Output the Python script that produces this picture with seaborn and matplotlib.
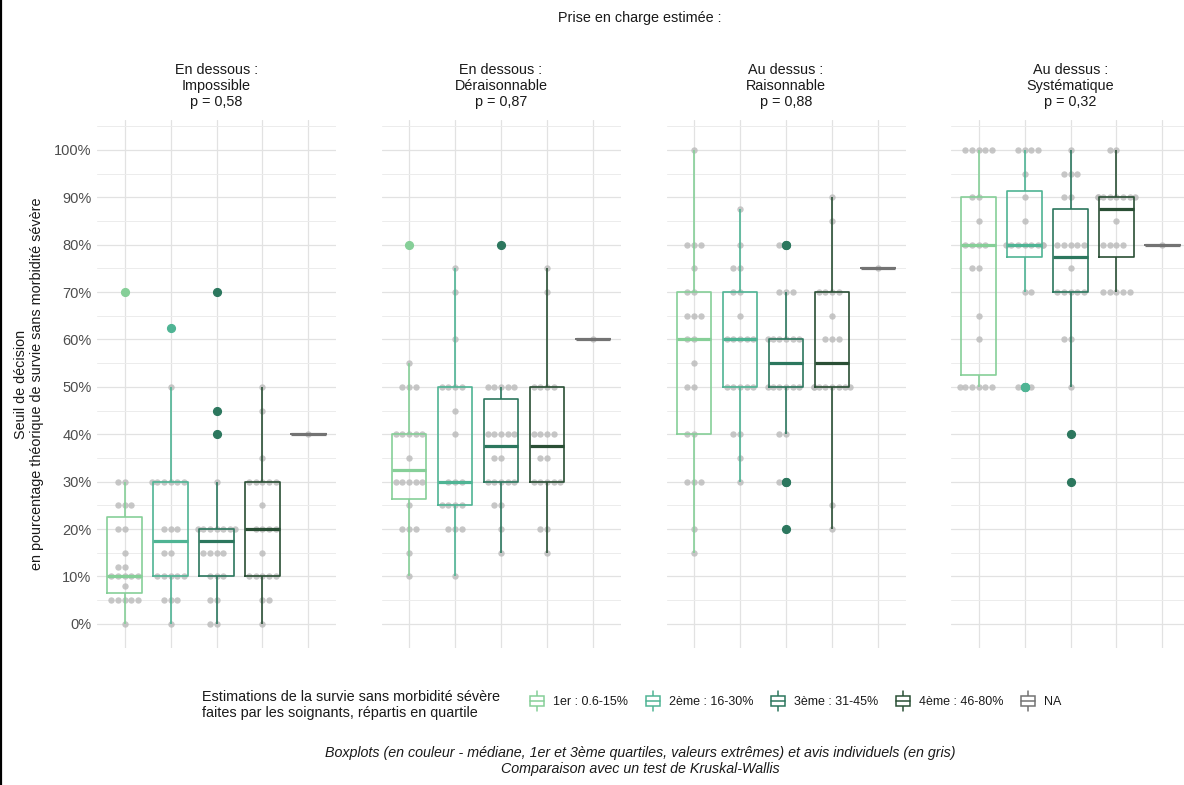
import warnings
warnings.filterwarnings("ignore")
import numpy as np
import pandas as pd
import matplotlib
matplotlib.use("Agg")
import matplotlib.pyplot as plt
import seaborn as sns
from matplotlib.ticker import MultipleLocator, FuncFormatter
from matplotlib.legend_handler import HandlerBase
from matplotlib.patches import Rectangle
from matplotlib.lines import Line2D

# ---------------- data ----------------
groups = ["1er : 0.6-15%", "2ème : 16-30%", "3ème : 31-45%", "4ème : 46-80%", "NA"]
panel_titles = ["En dessous :\nImpossible\np = 0,58",
                "En dessous :\nDéraisonnable\np = 0,87",
                "Au dessus :\nRaisonnable\np = 0,88",
                "Au dessus :\nSystématique\np = 0,32"]

impossible_g1 = [0, 5, 5, 5, 5, 5, 8, 10, 10, 10, 10, 10, 12, 12, 15, 20, 20, 25, 25, 25, 30, 30, 70]
impossible_g2 = [0, 5, 5, 5, 10, 10, 10, 10, 10, 15, 15, 20, 20, 20, 30, 30, 30, 30, 30, 30, 50, 62.5]
impossible_g3 = [0, 0, 5, 5, 10, 10, 10, 15, 15, 15, 15, 20, 20, 20, 20, 20, 20, 20, 30, 40, 45, 70]
impossible_g4 = [0, 5, 5, 10, 10, 10, 10, 10, 15, 20, 20, 20, 20, 25, 30, 30, 30, 30, 30, 35, 45, 50]
impossible_na = [40]

deraisonnable_g1 = [10, 15, 20, 20, 20, 25, 30, 30, 30, 30, 30, 35, 40, 40, 40, 40, 40, 50, 50, 50, 55, 80]
deraisonnable_g2 = [10, 20, 20, 20, 25, 25, 25, 25, 30, 30, 30, 40, 45, 50, 50, 50, 50, 60, 70, 75]
deraisonnable_g3 = [15, 20, 25, 25, 30, 30, 30, 30, 30, 35, 35, 40, 40, 40, 40, 40, 50, 50, 50, 50, 50, 80]
deraisonnable_g4 = [15, 20, 20, 30, 30, 30, 30, 30, 35, 35, 40, 40, 40, 40, 50, 50, 50, 50, 70, 75]
deraisonnable_na = [60]

raisonnable_g1 = [15, 20, 30, 30, 30, 40, 40, 50, 50, 55, 60, 60, 65, 65, 65, 70, 70, 75, 80, 80, 80, 100]
raisonnable_g2 = [30, 35, 40, 40, 50, 50, 50, 50, 50, 60, 60, 60, 60, 60, 65, 70, 70, 75, 75, 80, 87.5]
raisonnable_g3 = [20, 30, 30, 40, 40, 50, 50, 50, 50, 50, 50, 60, 60, 60, 60, 60, 60, 70, 70, 70, 80, 80]
raisonnable_g4 = [20, 25, 50, 50, 50, 50, 50, 50, 50, 50, 60, 60, 60, 65, 70, 70, 70, 70, 85, 90]
raisonnable_na = [75]

systematique_g1 = [50, 50, 50, 50, 50, 50, 60, 65, 75, 75, 80, 80, 80, 80, 85, 90, 90, 100, 100, 100, 100, 100]
systematique_g2 = [50, 50, 50, 70, 70, 80, 80, 80, 80, 80, 80, 80, 80, 85, 90, 95, 100, 100, 100, 100]
systematique_g3 = [30, 40, 50, 60, 60, 70, 70, 70, 70, 70, 75, 80, 80, 80, 80, 80, 90, 90, 95, 95, 95, 100]
systematique_g4 = [70, 70, 70, 70, 70, 80, 80, 80, 80, 85, 90, 90, 90, 90, 90, 90, 90, 90, 100, 100]
systematique_na = [80]

panel_data = [
    [impossible_g1, impossible_g2, impossible_g3, impossible_g4, impossible_na],
    [deraisonnable_g1, deraisonnable_g2, deraisonnable_g3, deraisonnable_g4, deraisonnable_na],
    [raisonnable_g1, raisonnable_g2, raisonnable_g3, raisonnable_g4, raisonnable_na],
    [systematique_g1, systematique_g2, systematique_g3, systematique_g4, systematique_na],
]

colors = ["#86cf98", "#4fb494", "#2c775e", "#2a4f35", "#737373"]
palette = dict(zip(groups, colors))

# ---------------- style ----------------
sns.set_theme(style="white")
plt.rcParams["font.family"] = ["Liberation Sans", "DejaVu Sans"]
plt.rcParams["text.color"] = "#1a1a1a"

W, H = 1184, 785
fig = plt.figure(figsize=(W / 100, H / 100), dpi=100)

panel_left_px = [97, 381.5, 666.5, 951]
panel_w_px = 239
top_px, bot_px = 120, 648


class BoxHandler(HandlerBase):
    def create_artists(self, legend, orig_handle, xdescent, ydescent,
                       width, height, fontsize, trans):
        c = orig_handle.get_color()
        x0, y0 = -xdescent, -ydescent
        cx = x0 + width / 2
        bh = height * 0.5
        by = y0 + height * 0.25
        rect = Rectangle((x0, by), width, bh, facecolor="white",
                         edgecolor=c, lw=1.1, transform=trans)
        med = Line2D([x0, x0 + width], [y0 + height / 2] * 2, color=c, lw=1.1, transform=trans)
        w1 = Line2D([cx, cx], [y0, by], color=c, lw=1.1, transform=trans)
        w2 = Line2D([cx, cx], [by + bh, y0 + height], color=c, lw=1.1, transform=trans)
        return [w1, w2, rect, med]


for i, (title, plist) in enumerate(zip(panel_titles, panel_data)):
    rows = []
    for g, vals in zip(groups, plist):
        for v in vals:
            rows.append({"group": g, "value": v})
    df = pd.DataFrame(rows)

    ax = fig.add_axes([panel_left_px[i] / W, 1 - bot_px / H,
                       panel_w_px / W, (bot_px - top_px) / H])

    sns.swarmplot(data=df, x="group", y="value", order=groups, color="#bdbdbd",
                  size=4.6, linewidth=0, alpha=0.85, ax=ax, zorder=1)
    sns.boxplot(data=df, x="group", y="value", hue="group", order=groups,
                hue_order=groups, palette=palette, fill=False, dodge=False,
                width=0.75, showcaps=False, linewidth=1.2,
                medianprops=dict(linewidth=2.3),
                flierprops=dict(marker="o", markersize=5.6),
                legend=False, ax=ax)
    for ln in ax.lines:
        if ln.get_marker() == "o":
            ln.set_markerfacecolor(ln.get_markeredgecolor())
            ln.set_zorder(4)

    ax.set_xlim(-0.6, 4.6)
    ax.set_ylim(-5.1, 106.3)
    ax.yaxis.set_major_locator(MultipleLocator(10))
    ax.yaxis.set_minor_locator(MultipleLocator(5))
    ax.yaxis.set_major_formatter(FuncFormatter(lambda v, p: f"{int(round(v))}%"))
    ax.grid(which="major", axis="both", color="#e2e2e2", lw=0.9)
    ax.grid(which="minor", axis="y", color="#ececec", lw=0.7)
    ax.set_axisbelow(True)
    for s in ax.spines.values():
        s.set_visible(False)
    ax.tick_params(axis="both", which="both", length=0, labelsize=10.5,
                   labelcolor="#4d4d4d", pad=4)
    ax.set_xticklabels([])
    ax.set_xlabel("")
    ax.set_ylabel("")
    if i > 0:
        ax.set_yticklabels([])

    cx = (panel_left_px[i] + panel_w_px / 2) / W
    fig.text(cx, 1 - 86 / H, title, ha="center", va="center", fontsize=10.4,
             linespacing=1.2, multialignment="center")

fig.text(640 / W, 1 - 18 / H, "Prise en charge estimée :", ha="center", va="center",
         fontsize=10.4)

fig.text(29 / W, 1 - 384 / H,
         "Seuil de décision\nen pourcentage théorique de survie sans morbidité sévère",
         rotation=90, ha="center", va="center", fontsize=10.4,
         multialignment="center", linespacing=1.2)

# legend
fig.text(202 / W, 1 - 705 / H,
         "Estimations de la survie sans morbidité sévère\nfaites par les soignants, répartis en quartile",
         ha="left", va="center", fontsize=10.4, linespacing=1.2)
handles = [Line2D([], [], color=c) for c in colors]
fig.legend(handles, groups, loc="center left", bbox_to_anchor=(530 / W, 1 - 701 / H),
           ncol=5, frameon=False, handler_map={Line2D: BoxHandler()},
           handlelength=1.15, handleheight=2.1, handletextpad=0.7,
           columnspacing=1.4, fontsize=9.0, borderpad=0, borderaxespad=0)

fig.text(640 / W, 1 - 761 / H,
         "Boxplots (en couleur - médiane, 1er et 3ème quartiles, valeurs extrêmes) et avis individuels (en gris)\nComparaison avec un test de Kruskal-Wallis",
         ha="center", va="center", fontsize=10.3, style="italic", linespacing=1.2)

fig.add_artist(Line2D([0.8 / W, 0.8 / W], [0, 1], color="black", lw=1.6,
                      transform=fig.transFigure))

fig.savefig("out.png", dpi=100, facecolor="white")
